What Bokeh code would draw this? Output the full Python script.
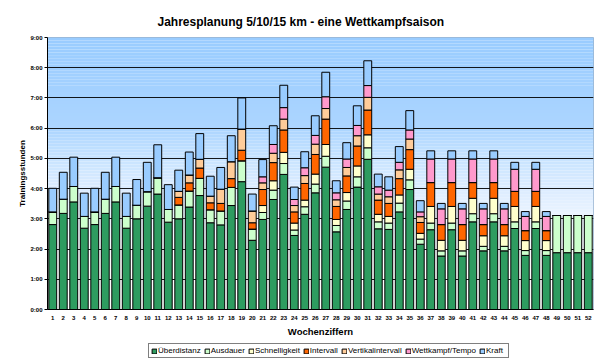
from bokeh.plotting import figure
from bokeh.layouts import column
from bokeh.models import (FactorRange, Range1d, Legend, LegendItem, FixedTicker,
                          BoxAnnotation, ColumnDataSource)
from bokeh.embed import file_html
from bokeh.resources import INLINE

weeks = [str(i) for i in range(1, 53)]

ueberdistanz = [2.81, 3.18, 3.56, 2.69, 2.81, 3.18, 3.56, 2.69, 3.00, 3.42, 3.82, 2.89,
                3.00, 3.39, 3.77, 2.87, 2.80, 3.44, 4.23, 2.29, 2.98, 3.64, 4.47, 2.45,
                3.15, 3.86, 4.71, 2.57, 3.31, 4.05, 4.97, 2.67, 2.65, 3.23, 3.97, 2.16,
                2.64, 1.77, 2.64, 1.77, 2.90, 1.94, 2.90, 1.94, 2.68, 1.79, 2.68, 1.79,
                1.88, 1.88, 1.88, 1.88]
ausdauer = [0.42, 0.47, 0.51, 0.39, 0.42, 0.47, 0.51, 0.39, 0.45, 0.48, 0.54, 0.42,
            0.46, 0.53, 0.57, 0.43, 0.46, 0.60, 0.69, 0.37, 0.23, 0.31, 0.36, 0.18,
            0.25, 0.29, 0.36, 0.21, 0.28, 0.34, 0.38, 0.23, 0.21, 0.29, 0.32, 0.17,
            0.22, 0.17, 0.22, 0.17, 0.27, 0.15, 0.27, 0.15, 0.22, 0.16, 0.22, 0.16,
            1.23, 1.23, 1.23, 1.23]
schnelligkeit = [0, 0, 0, 0, 0, 0, 0, 0, 0, 0, 0, 0,
                 0, 0, 0, 0, 0, 0, 0, 0, 0.23, 0.31, 0.37, 0.23,
                 0.22, 0.33, 0.39, 0.20, 0.28, 0.36, 0.43, 0.25, 0.22, 0.27, 0.35, 0.19,
                 0.55, 0.35, 0.55, 0.35, 0.51, 0.35, 0.51, 0.35, 0.51, 0.33, 0.51, 0.33,
                 0, 0, 0, 0]
intervall = [0, 0, 0, 0, 0, 0, 0, 0, 0, 0, 0, 0,
             0.25, 0.27, 0.34, 0.23, 0.25, 0.29, 0.35, 0.21, 0.53, 0.60, 0.74, 0.37,
             0.55, 0.65, 0.84, 0.43, 0.55, 0.66, 0.82, 0.47, 0.43, 0.54, 0.65, 0.36,
             0.79, 0.52, 0.79, 0.52, 0.52, 0.37, 0.52, 0.37, 0.50, 0.33, 0.50, 0.33,
             0, 0, 0, 0]
vertikalintervall = [0, 0, 0, 0, 0, 0, 0, 0, 0, 0, 0, 0,
                     0.20, 0.26, 0.29, 0.22, 0.47, 0.56, 0.70, 0.39, 0.22, 0.31, 0.36, 0.21,
                     0.26, 0.34, 0.35, 0.22, 0.28, 0.34, 0.42, 0.20, 0.22, 0.29, 0.35, 0.19,
                     0, 0, 0, 0, 0, 0, 0, 0, 0, 0, 0, 0,
                     0, 0, 0, 0]
wettkampf = [0, 0, 0, 0, 0, 0, 0, 0, 0, 0, 0, 0,
             0, 0, 0, 0, 0, 0, 0, 0, 0.20, 0.29, 0.38, 0.20,
             0.26, 0.29, 0.39, 0.23, 0.28, 0.34, 0.39, 0.24, 0.22, 0.25, 0.30, 0.16,
             0.78, 0.52, 0.78, 0.52, 0.78, 0.52, 0.78, 0.52, 0.73, 0.47, 0.73, 0.47,
             0, 0, 0, 0]
kraft = [0.78, 0.89, 0.97, 0.77, 0.78, 0.89, 0.97, 0.77, 0.85, 0.97, 1.09, 0.82,
         0.70, 0.76, 0.85, 0.66, 0.72, 0.86, 1.03, 0.56, 0.57, 0.62, 0.74, 0.41,
         0.53, 0.65, 0.81, 0.40, 0.54, 0.65, 0.82, 0.42, 0.44, 0.52, 0.64, 0.37,
         0.27, 0.18, 0.27, 0.18, 0.27, 0.18, 0.27, 0.18, 0.23, 0.16, 0.23, 0.16,
         0, 0, 0, 0]

series_keys = ["ueberdistanz", "ausdauer", "schnelligkeit", "intervall",
               "vertikalintervall", "wettkampf", "kraft"]
series_labels = ["Überdistanz", "Ausdauer", "Schnelligkeit", "Intervall",
                 "Vertikalintervall", "Wettkampf/Tempo", "Kraft"]
colors = ["#2e9c60", "#ccffcc", "#ffffcc", "#ff6600", "#ffcc99", "#ff99cc", "#99ccff"]
y_ticks = [0, 1, 2, 3, 4, 5, 6, 7, 8, 9]

source = ColumnDataSource(dict(weeks=weeks, ueberdistanz=ueberdistanz, ausdauer=ausdauer,
                               schnelligkeit=schnelligkeit, intervall=intervall,
                               vertikalintervall=vertikalintervall, wettkampf=wettkampf,
                               kraft=kraft))

FONT = "Liberation Sans"

p = figure(frame_width=546, frame_height=272,
           x_range=FactorRange(factors=weeks, range_padding=0),
           y_range=Range1d(0, 9), output_backend="svg", toolbar_location=None,
           min_border_left=47, min_border_right=5, min_border_top=37, min_border_bottom=30,
           title="Jahresplanung 5/10/15 km - eine Wettkampfsaison")
p.title.align = "left"
p.title.offset = 110
p.title.standoff = 18
p.title.text_font = FONT
p.title.text_font_size = "12px"
p.title.text_font_style = "bold"
p.title.text_color = "black"
p.background_fill_color = "white"
p.border_fill_color = "white"
p.outline_line_color = "#9ab4d0"

# background gradient of the plot area (style only)
def lerp(c1, c2, t):
    return tuple(int(round(a + (b - a) * t)) for a, b in zip(c1, c2))

stops = [(0.0, (255, 255, 255)), (1.5, (255, 255, 255)), (3.0, (236, 245, 255)),
         (4.0, (220, 236, 255)), (5.0, (200, 228, 255)), (6.0, (172, 213, 255)),
         (9.0, (153, 204, 255))]
step = 0.1
n = int(round(9 / step))
for i in range(n):
    v = (i + 0.5) * step
    for (a, ca), (b, cb) in zip(stops[:-1], stops[1:]):
        if a <= v <= b:
            c = lerp(ca, cb, (v - a) / (b - a))
            break
    p.add_layout(BoxAnnotation(bottom=i * step, top=(i + 1) * step + 0.001,
                               fill_color="#%02x%02x%02x" % c, fill_alpha=1.0,
                               line_color=None, level="image"))

renderers = p.vbar_stack(series_keys, x="weeks", width=0.75, color=colors,
                         line_color="black", line_width=1, source=source)

p.xgrid.grid_line_color = None
p.ygrid.grid_line_color = "black"
p.ygrid.grid_line_alpha = 0.9
p.ygrid.ticker = FixedTicker(ticks=y_ticks)

p.yaxis.ticker = FixedTicker(ticks=y_ticks)
p.yaxis.major_label_overrides = {t: f"{t}:00" for t in y_ticks}
p.yaxis.minor_tick_line_color = None
p.yaxis.major_tick_out = 3
p.yaxis.major_tick_in = 0
p.yaxis.major_label_standoff = 2
p.yaxis.axis_label = "Trainingsstunden"
p.yaxis.axis_label_standoff = 0

p.xaxis.major_tick_line_color = None
p.xaxis.major_tick_out = 0
p.xaxis.major_tick_in = 0
p.xaxis.major_label_standoff = 6
p.xaxis.axis_label = "Wochenziffern"
p.xaxis.axis_label_standoff = 3

for ax in (p.xaxis[0], p.yaxis[0]):
    ax.axis_line_color = "black"
    ax.major_label_text_font = FONT
    ax.major_label_text_font_size = "6px"
    ax.major_label_text_font_style = "bold"
    ax.major_label_text_color = "black"
    ax.axis_label_text_font = FONT
    ax.axis_label_text_font_style = "bold"
    ax.axis_label_text_color = "black"
p.yaxis.axis_label_text_font_size = "8px"
p.xaxis.axis_label_text_font_size = "9.5px"

# legend strip below the chart: same stacked series, drawn outside its visible range
pl = figure(width=598, height=25, x_range=FactorRange(factors=weeks),
            y_range=Range1d(20, 21), output_backend="svg", toolbar_location=None,
            min_border=0, x_axis_location=None, y_axis_location=None)
pl.outline_line_color = None
pl.grid.visible = False
pl.background_fill_color = "white"
pl.border_fill_color = "white"
legend_renderers = pl.vbar_stack(series_keys, x="weeks", width=0.75, color=colors,
                                 line_color="black", line_width=1, source=source)
legend = Legend(items=[LegendItem(label=l, renderers=[r])
                       for l, r in zip(series_labels, legend_renderers)],
                orientation="horizontal", location=(101, 6),
                label_text_font=FONT, label_text_font_size="8px", label_text_color="black",
                glyph_width=6, glyph_height=6, label_standoff=1, spacing=3, padding=2,
                margin=0, border_line_color="black", border_line_width=1,
                background_fill_color="white", background_fill_alpha=1.0)
pl.add_layout(legend, "center")

layout = column(p, pl, spacing=0)
open("out.html", "w").write(file_html(layout, INLINE))
